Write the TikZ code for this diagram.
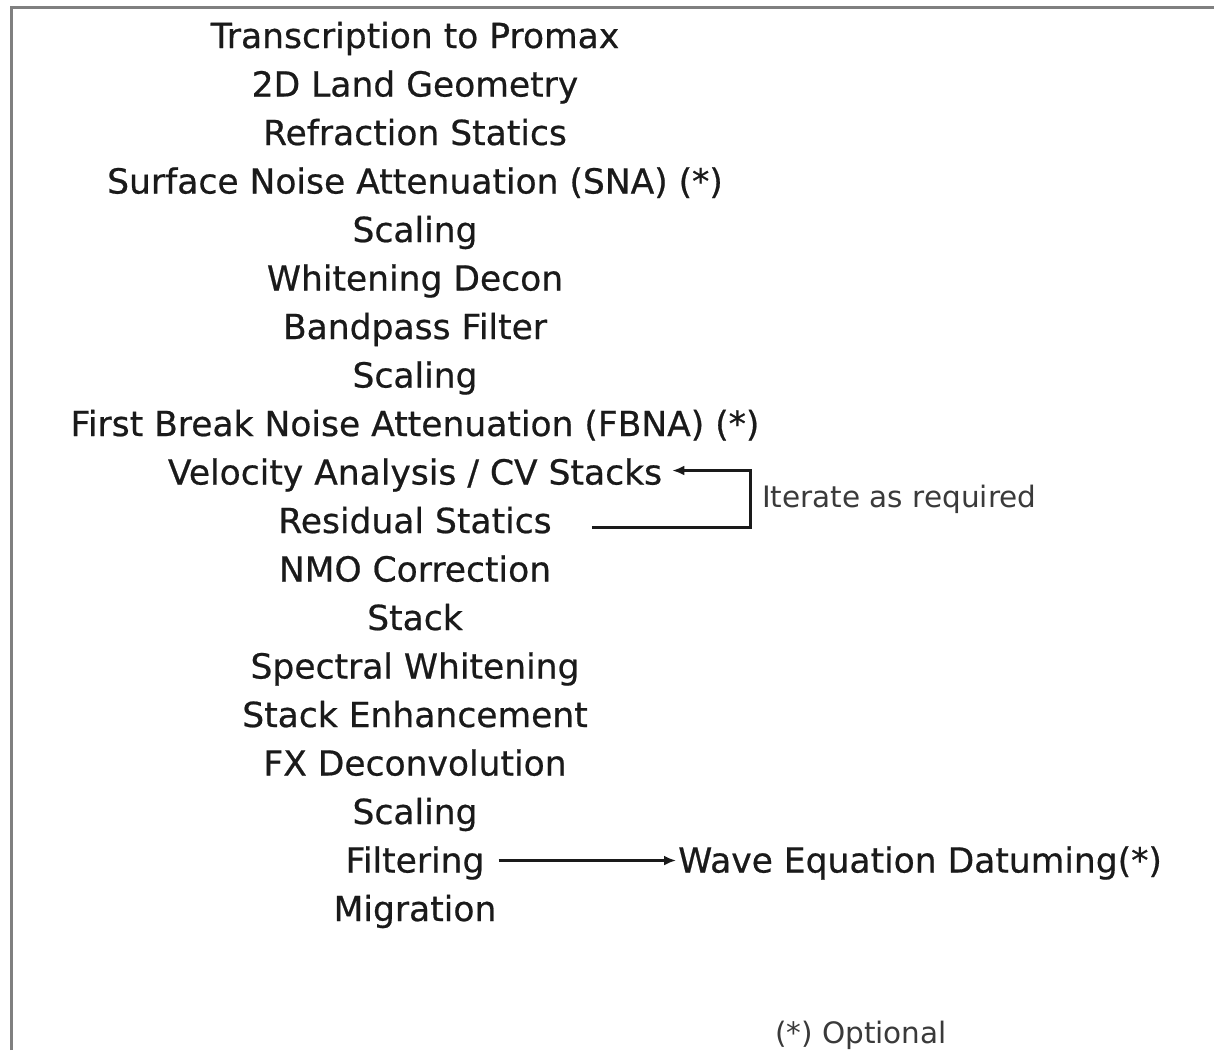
\documentclass[tikz,border=0pt]{standalone}
\usepackage{fontspec}
\setmainfont{DejaVu Sans}
\newfontfamily\heavyface[FakeBold=0.6]{DejaVu Sans}
\usepackage{xcolor}
\usetikzlibrary{positioning,arrows.meta}
\definecolor{ink}{HTML}{1A1A1A}
\definecolor{inkdim}{HTML}{3A3A3A}
\definecolor{framegrey}{HTML}{808080}

\begin{document}
\begin{tikzpicture}[x=1pt,y=-1pt,font=\heavyface\fontsize{34.5}{38}\selectfont,
     stepnode/.style={text=ink,inner sep=2pt,text height=26pt,text depth=2pt},
     note/.style={text=inkdim,inner sep=2pt,text height=22pt,text depth=2pt,font=\fontsize{29.5}{32}\selectfont},
     arr/.style={ink,line width=3pt,-{Latex[length=12pt,width=10pt]}}]
    \useasboundingbox (0,0) rectangle (1214,1050);
    \draw[framegrey,line width=3pt] (11,1050) -- (11,7) -- (1214,7);
    \node[stepnode](s1) at (415,36){Transcription to Promax};
    \node[stepnode](s2) at (415,84.5){2D Land Geometry};
    \node[stepnode](s3) at (415,133){Refraction Statics};
    \node[stepnode](s4) at (415,181.5){Surface Noise Attenuation (SNA) (*)};
    \node[stepnode](s5) at (415,230){Scaling};
    \node[stepnode](s6) at (415,278.5){Whitening Decon};
    \node[stepnode](s7) at (415,327){Bandpass Filter};
    \node[stepnode](s8) at (415,375.5){Scaling};
    \node[stepnode](s9) at (415,424){First Break Noise Attenuation (FBNA) (*)};
    \node[stepnode](s10) at (415,472.5){Velocity Analysis / CV Stacks};
    \node[stepnode](s11) at (415,521){Residual Statics};
    \node[stepnode](s12) at (415,569.5){NMO Correction};
    \node[stepnode](s13) at (415,618){Stack};
    \node[stepnode](s14) at (415,666.5){Spectral Whitening};
    \node[stepnode](s15) at (415,715){Stack Enhancement};
    \node[stepnode](s16) at (415,763.5){FX Deconvolution};
    \node[stepnode](s17) at (415,812){Scaling};
    \node[stepnode](s18) at (415,860.5){Filtering};
    \node[stepnode](s19) at (415,909){Migration};
    % iteration loop
    \coordinate (turn) at (750,497);
    \node[note,anchor=west](iter) at ([xshift=10pt]turn){Iterate as required};
    \draw[arr] ([xshift=38pt,yshift=-6pt]s11.east) -| (turn) |- ([xshift=8pt,yshift=2pt]s10.east);
    % datuming branch
    \node[stepnode,anchor=west](wed) at (676,860.5){Wave Equation Datuming(*)};
    \draw[arr,shorten <=12pt](s18)--(wed);
    \node[note](opt) at (861,1033){(*) Optional};
  \end{tikzpicture}
\end{document}
